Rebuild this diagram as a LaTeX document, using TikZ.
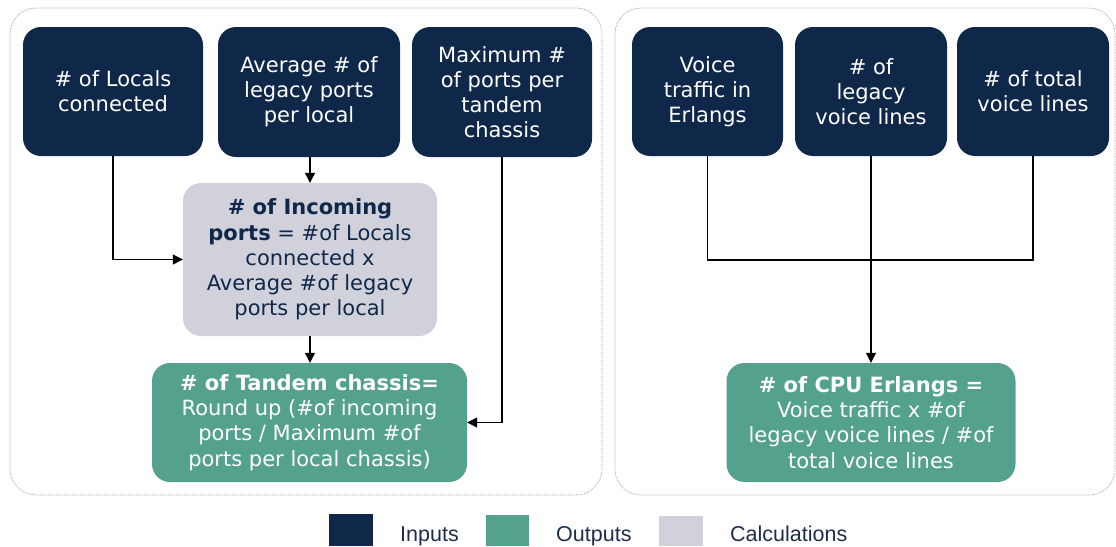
\documentclass[tikz,border=0pt]{standalone}
\usepackage{fontspec}
\setmainfont{DejaVu Sans}
\newfontfamily\legendfont{Liberation Sans}
\usetikzlibrary{arrows.meta}
\definecolor{navy}{HTML}{0F284A}
\definecolor{teal}{HTML}{54A18D}
\definecolor{lgray}{HTML}{D1D1DC}
\definecolor{panelgray}{HTML}{9A9A9A}
\definecolor{legtext}{HTML}{1F2D4A}
\tikzset{
  box/.style={rectangle, rounded corners=18pt, inner sep=0pt, align=center,
    font=\fontsize{21}{25.2}\selectfont},
  inbox/.style={box, fill=navy, text=white},
  calcbox/.style={box, fill=lgray, text=navy},
  outbox/.style={box, fill=teal, text=white},
  panel/.style={draw=panelgray, line width=0.7pt, dash pattern=on 0.7pt off 0.9pt, rounded corners=26pt},
  arr/.style={draw=black, line width=1.1pt, -{Triangle[length=10pt,width=10pt]}},
  conn/.style={draw=black, line width=1.1pt},
  legsq/.style={rectangle, inner sep=0pt},
  legtxt/.style={anchor=base west, inner sep=0pt, text=legtext, font=\legendfont\fontsize{21.5}{24}\selectfont}
}
\begin{document}
\begin{tikzpicture}[x=1pt,y=-1pt]
\useasboundingbox (0,0) rectangle (1116,546);
% panels
\draw[panel] (10,8) rectangle (602,495);
\draw[panel] (615,8) rectangle (1115,495);
% inputs left
\node[inbox, minimum width=180pt, minimum height=129pt] (in1) at (113,91.5) {\# of Locals\\connected};
\node[inbox, minimum width=182pt, minimum height=130pt] (in2) at (309,92) {Average \# of\\legacy ports\\per local};
\node[inbox, minimum width=180pt, minimum height=130pt] (in3) at (502,92) {Maximum \#\\of ports per\\tandem\\chassis};
% inputs right
\node[inbox, minimum width=151pt, minimum height=129pt] (in4) at (707.5,91.5) {Voice\\traffic in\\Erlangs};
\node[inbox, minimum width=152pt, minimum height=129pt] (in5) at (871,91.5) {\# of\\legacy\\voice lines};
\node[inbox, minimum width=152pt, minimum height=129pt] (in6) at (1033,91.5) {\# of total\\voice lines};
% calculation
\node[calcbox, minimum width=254pt, minimum height=153pt] (calc) at (310,259.5)
  {\textbf{\# of Incoming}\\\textbf{ports} = \#of Locals\\connected x\\Average \#of legacy\\ports per local};
% outputs
\node[outbox, minimum width=315pt, minimum height=119pt] (tandem) at (309.5,422.5)
  {\textbf{\# of Tandem chassis=}\\Round up (\#of incoming\\ports / Maximum \#of\\ports per local chassis)};
\node[outbox, minimum width=289pt, minimum height=119pt] (cpu) at (871,422.5)
  {\textbf{\# of CPU Erlangs =}\\Voice traffic x \#of\\legacy voice lines / \#of\\total voice lines};
% connectors left
\draw[arr] (in1.south) |- (calc.west);
\draw[arr] (in2.south -| calc.north) -- (calc.north);
\draw[arr] (calc.south) -- (calc.south |- tandem.north);
\draw[arr] (in3.south) |- (tandem.east);
% connectors right
\coordinate (jr) at (871,260);
\draw[conn] (in4.south) |- (jr) -| (in6.south);
\draw[arr] (in5.south) -- (cpu.north);
% legend
\node[legsq, fill=navy, minimum width=44pt, minimum height=32pt] (lg1) at (351,530) {};
\node[legtxt] (lt1) at (400,541) {Inputs};
\node[legsq, fill=teal, minimum width=43pt, minimum height=31pt] (lg2) at (507.5,530.5) {};
\node[legtxt] (lt2) at (556,541) {Outputs};
\node[legsq, fill=lgray, minimum width=44pt, minimum height=30pt] (lg3) at (681,531) {};
\node[legtxt] (lt3) at (730,541) {Calculations};
\end{tikzpicture}
\end{document}
